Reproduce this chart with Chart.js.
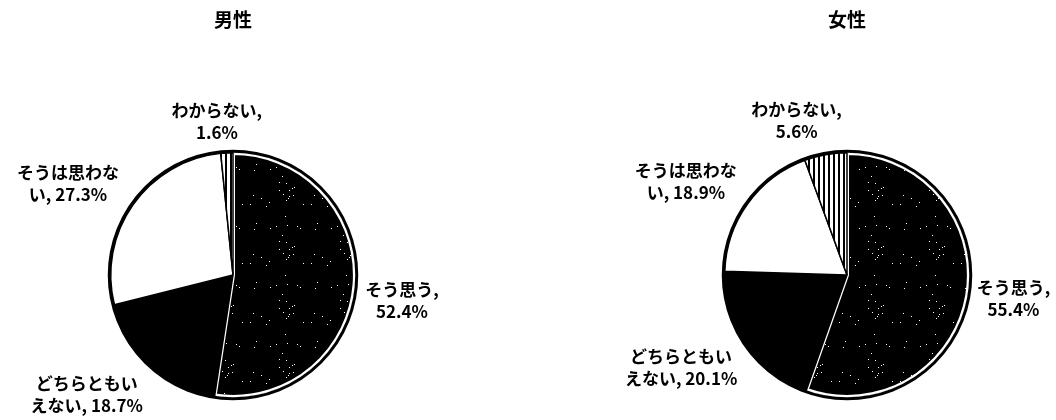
<!DOCTYPE html>
<html lang="ja">
<head>
<meta charset="utf-8">
<script src="https://cdn.jsdelivr.net/npm/chart.js@4.4.1/dist/chart.umd.min.js"></script>
<style>
  html, body { margin: 0; padding: 0; background: #fff; }
  #wrap { display: flex; width: 1056px; height: 420px; }
  canvas { display: block; }
</style>
</head>
<body>
<div id="wrap">
  <canvas id="maleChart" width="528" height="420"></canvas>
  <canvas id="femaleChart" width="528" height="420"></canvas>
</div>
<script>
var categories = ["そう思う", "どちらともいえない", "そうは思わない", "わからない"];
var maleValues = [52.4, 18.7, 27.3, 1.6];
var femaleValues = [55.4, 20.1, 18.9, 5.6];
var chartTitles = ["男性", "女性"];

var FONT = '"Noto Sans CJK JP", "Noto Sans CJK SC", sans-serif';

// black fill with sparse white specks (scanned screen tone look)
function makeStipple() {
    var c = document.createElement('canvas');
    c.width = 61; c.height = 59;
    var g = c.getContext('2d');
    g.fillStyle = '#000';
    g.fillRect(0, 0, 61, 59);
    g.fillStyle = '#fff';
    var seed = 12345;
    function next() {
        seed = (seed * 1103515245 + 12345) % 2147483648;
        return Math.floor(seed / 65536) / 32768;
    }
    for (var i = 0; i < 26; i++) {
        var x = Math.floor(next() * 61);
        var y = Math.floor(next() * 59);
        g.fillRect(x, y, 1, 1);
    }
    return g.createPattern(c, 'repeat');
}

// vertical hatch
function makeStripes() {
    var c = document.createElement('canvas');
    c.width = 5; c.height = 4;
    var g = c.getContext('2d');
    g.fillStyle = '#fff';
    g.fillRect(0, 0, 5, 4);
    g.fillStyle = '#000';
    g.fillRect(0, 0, 2, 4);
    return g.createPattern(c, 'repeat');
}

// break after the 6th character like the original labels
function wrapLabel(text) {
    if (text.length <= 6) return [text];
    return [text.slice(0, 6).trim(), text.slice(6).trim()];
}

var pieLabels = {
    id: 'pieLabels',
    afterDatasetsDraw: function (chart, args, opts) {
        var ctx = chart.ctx;
        var meta = chart.getDatasetMeta(0);
        var data = chart.data.datasets[0].data;
        var first = meta.data[0];
        ctx.save();
        // heavy outline round the pie
        ctx.beginPath();
        ctx.arc(first.x, first.y, first.outerRadius + 1.5, 0, Math.PI * 2);
        ctx.lineWidth = 3;
        ctx.strokeStyle = '#000';
        ctx.stroke();

        ctx.font = 'bold 17px ' + FONT;
        ctx.fillStyle = '#000';
        ctx.textAlign = 'center';
        ctx.textBaseline = 'middle';
        meta.data.forEach(function (arc, i) {
            var mid = (arc.startAngle + arc.endAngle) / 2;
            var px = arc.x + Math.cos(mid) * arc.outerRadius;
            var py = arc.y + Math.sin(mid) * arc.outerRadius;
            var off = opts.offsets[i];
            var lines = wrapLabel(chart.data.labels[i] + ', ' + data[i].toFixed(1) + '%');
            var top = py + off[1] - (lines.length - 1) * 11;
            lines.forEach(function (line, k) {
                ctx.fillText(line, px + off[0], top + k * 22);
            });
        });
        ctx.restore();
    }
};

function drawPie(id, title, values, pad, offsets) {
    var ctx = document.getElementById(id).getContext('2d');
    return new Chart(ctx, {
        type: 'pie',
        data: {
            labels: categories,
            datasets: [{
                data: values,
                backgroundColor: [makeStipple(), '#000', '#fff', makeStripes()],
                borderColor: ['#fff', '#000', '#000', '#000'],
                borderWidth: [2, 1.5, 1.5, 1.5],
                borderAlign: ['inner', 'center', 'center', 'center']
            }]
        },
        options: {
            responsive: false,
            animation: false,
            layout: { padding: pad },
            plugins: {
                legend: { display: false },
                tooltip: { enabled: false },
                title: {
                    display: true,
                    text: title,
                    color: '#000',
                    font: { family: FONT, size: 19, weight: 'bold' },
                    padding: { top: 8, bottom: 121.2 }
                },
                pieLabels: { offsets: offsets }
            }
        },
        plugins: [pieLabels]
    });
}

drawPie('maleChart', chartTitles[0], maleValues,
    { left: 110, right: 172, top: 0, bottom: 22 },
    [[47, 16], [-64, 29], [-65, -21], [-10, -31]]);

drawPie('femaleChart', chartTitles[1], femaleValues,
    { left: 196, right: 86, top: 0, bottom: 22 },
    [[46, 3], [-65, 24], [-62, -22], [-29, -34]]);
</script>
</body>
</html>
